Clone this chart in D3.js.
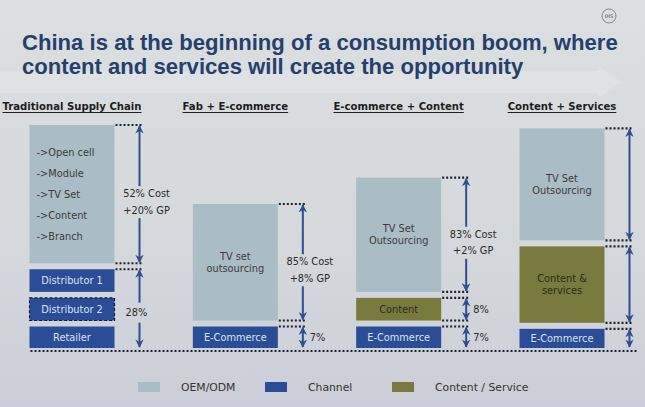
<!DOCTYPE html>
<html><head><meta charset="utf-8">
<script src="https://cdn.jsdelivr.net/npm/d3@7"></script>
<style>html,body{margin:0;padding:0;background:#d6d9dc;} svg{display:block;}</style>
</head><body><svg id="c" width="645" height="407"></svg>
<script>
// ---------- data ----------
const titleLines = ["China is at the beginning of a consumption boom, where",
                    "content and services will create the opportunity"];
const columns = ["Traditional Supply Chain","Fab + E-commerce","E-commerce + Content","Content + Services"];
// segments, stacked bottom-up within each column
const segColumn = [0,0,0,0, 1,1, 2,2,2, 3,3,3];
const segKind = ["Channel","Channel","Channel","OEM/ODM",
                 "Channel","OEM/ODM",
                 "Channel","Content / Service","OEM/ODM",
                 "Channel","Content / Service","OEM/ODM"];
const segLabel = [["Retailer"],["Distributor 2"],["Distributor 1"],["->Open cell","->Module","->TV Set","->Content","->Branch"],
                  ["E-Commerce"],["TV set","outsourcing"],
                  ["E-Commerce"],["Content"],["TV Set","Outsourcing"],
                  ["E-Commerce"],["Content &","services"],["TV Set","Outsourcing"]];
const segSize = [12,12.5,12.5,63, 12,53.5, 12,12.5,52.5, 11,36,51.5];
const dashedSegments = ["Distributor 2"];
// bracket arrows: column, bottom segment index, top segment index (within column), label
const spanColumn = [0,0, 1,1, 2,2,2, 3,3,3];
const spanFrom   = [3,0, 1,0, 2,1,0, 2,1,0];
const spanTo     = [3,2, 1,0, 2,1,0, 2,1,0];
const spanLabel  = [["52% Cost","+20% GP"],["28%"],["85% Cost","+8% GP"],["7%"],
                    ["83% Cost","+2% GP"],["8%"],["7%"],[],[],[]];
const legendKeys = ["OEM/ODM","Channel","Content / Service"];
const legendColors = ["#a9bdc7","#2b4c96","#7a7a3e"];

// ---------- setup ----------
const svg = d3.select("#c");
const W = 645, H = 407;
const FONT = "'DejaVu Sans', Verdana, sans-serif";
const color = d3.scaleOrdinal().domain(legendKeys).range(legendColors);
const textColor = d3.scaleOrdinal().domain(legendKeys).range(["#3b3b3b","#dde2ee","#2c2c1c"]);
const x = d3.scaleBand().domain(columns).range([29.5, 604.5]).paddingInner(0.4796).paddingOuter(0);
const y = d3.scaleLinear().domain([0, 100]).range([351, 122]);
const PAD = 3;

const defs = svg.append("defs");
const grad = defs.append("linearGradient").attr("id","bg").attr("x1",0).attr("y1",0).attr("x2",0).attr("y2",1);
grad.append("stop").attr("offset","0%").attr("stop-color","#dcdfe0");
grad.append("stop").attr("offset","55%").attr("stop-color","#d6d9dc");
grad.append("stop").attr("offset","100%").attr("stop-color","#cbced8");
defs.append("marker").attr("id","ah").attr("viewBox","0 0 10 10")
  .attr("refX",9).attr("refY",5).attr("markerWidth",4.2).attr("markerHeight",4.2)
  .attr("orient","auto-start-reverse")
  .append("path").attr("d","M0,0 L10,5 L0,10 L3,5 z").attr("fill","#2e4f92");

svg.append("rect").attr("width",W).attr("height",H).attr("fill","url(#bg)");

// faint background arrow behind title
svg.append("path")
  .attr("d","M0,71 L598,71 L598,66 L622,82 L598,98 L598,93 L0,93 Z")
  .attr("fill","#ffffff").attr("opacity",0.14);

// IHS logo
svg.append("circle").attr("cx",609).attr("cy",16).attr("r",7)
  .attr("fill","none").attr("stroke","#6c6e72").attr("stroke-width",0.8);
svg.append("text").attr("x",609).attr("y",18).attr("text-anchor","middle")
  .attr("font-family",FONT).attr("font-size",5).attr("fill","#555").text("IHS");

// title
const tt = svg.append("g");
titleLines.forEach((t,i)=>{
  tt.append("text").attr("x",22).attr("y",50 + i*24)
    .attr("font-family","'Liberation Sans', Arial, sans-serif").attr("font-weight","bold")
    .attr("font-size",21).attr("fill","#24406d").text(t);
});
const l1 = tt.select("text").node().getComputedTextLength();
tt.selectAll("text").attr("font-size", 21*596/l1);

// column headers
columns.forEach(c=>{
  const cx = x(c) + x.bandwidth()/2;
  const t = svg.append("text").attr("x",cx).attr("y",110).attr("text-anchor","middle")
    .attr("font-family",FONT).attr("font-weight","bold").attr("font-size",10.1)
    .attr("fill","#1e1e1e").text(c);
  const w = t.node().getComputedTextLength();
  svg.append("line").attr("x1",cx-w/2).attr("x2",cx+w/2).attr("y1",112.5).attr("y2",112.5)
    .attr("stroke","#1e1e1e").attr("stroke-width",1);
});

// build stacked segments
const segs = segSize.map((s,i)=>({i, col:segColumn[i], kind:segKind[i], label:segLabel[i], size:s}));
const cum = {};
segs.forEach(d=>{
  const c0 = cum[d.col] || 0;
  d.y0 = c0; d.y1 = c0 + d.size; cum[d.col] = d.y1;
  d.colName = columns[d.col];
  d.bx = x(d.colName); d.bw = x.bandwidth();
  d.top = y(d.y1) + PAD; d.bottom = y(d.y0) - PAD;
});
const colSegs = columns.map((c,ci)=>segs.filter(d=>d.col===ci));

// baseline dotted line
svg.append("line").attr("x1",x(columns[0])+1).attr("x2",637).attr("y1",y(0)).attr("y2",y(0))
  .attr("stroke","#1c1f2c").attr("stroke-width",2.2).attr("stroke-dasharray","2,2");

// boxes
const g = svg.append("g");
g.selectAll("rect.seg").data(segs).join("rect").attr("class","seg")
  .attr("x",d=>d.bx).attr("y",d=>d.top).attr("width",d=>d.bw).attr("height",d=>d.bottom-d.top)
  .attr("fill",d=>color(d.kind))
  .attr("stroke",d=>dashedSegments.includes(d.label[0]) ? "#101a3a" : "none")
  .attr("stroke-width",1.2)
  .attr("stroke-dasharray",d=>dashedSegments.includes(d.label[0]) ? "3,2" : null);

segs.forEach(d=>{
  const n = d.label.length;
  const left = n > 3;
  const lh = left ? 21 : 12;
  const mid = (d.top + d.bottom)/2;
  d.label.forEach((t,k)=>{
    g.append("text")
      .attr("x", left ? d.bx + 7 : d.bx + d.bw/2)
      .attr("y", mid + (k - (n-1)/2)*lh)
      .attr("dy","0.35em")
      .attr("text-anchor", left ? "start" : "middle")
      .attr("font-family",FONT).attr("font-size",9.8)
      .attr("fill", textColor(d.kind)).text(t);
  });
});

// bracket arrows
const ARW = "#2e4f92";
spanColumn.forEach((ci,k)=>{
  const cs = colSegs[ci];
  const top = cs[spanTo[k]].top, bottom = cs[spanFrom[k]].bottom;
  const boxRight = x(columns[ci]) + x.bandwidth();
  const ax = boxRight + 25;
  // dotted guides
  const dots = [top];
  if (spanFrom[k] !== 0) dots.push(bottom);
  dots.forEach(yy=>{
    svg.append("line").attr("x1",boxRight+1).attr("x2",ax+2).attr("y1",yy).attr("y2",yy)
      .attr("stroke","#1c1f2c").attr("stroke-width",2.2).attr("stroke-dasharray","2,2");
  });
  const lab = spanLabel[k];
  const n = lab.length;
  const hgt = bottom - top;
  const arrow = (ya,yb)=>svg.append("line").attr("x1",ax).attr("x2",ax).attr("y1",ya).attr("y2",yb)
      .attr("stroke",ARW).attr("stroke-width",2).attr("marker-end","url(#ah)");
  if (n > 0 && hgt > 45) {
    const mid = (top + bottom)/2;
    const c = mid + (n > 1 ? 8 : 4);
    const half = 6*n + 4;
    arrow(c-half, top+1);
    arrow(c+half, bottom-1);
    lab.forEach((t,j)=>{
      svg.append("text").attr("x", ax + (n>1 ? 7 : -3)).attr("y", c + (j-(n-1)/2)*16.5)
        .attr("dy","0.35em").attr("text-anchor","middle")
        .attr("font-family",FONT).attr("font-size",9.8).attr("fill","#2a2a2a").text(t);
    });
  } else {
    svg.append("line").attr("x1",ax).attr("x2",ax).attr("y1",bottom-1).attr("y2",top+1)
      .attr("stroke",ARW).attr("stroke-width",2)
      .attr("marker-start","url(#ah)").attr("marker-end","url(#ah)");
    lab.forEach((t,j)=>{
      svg.append("text").attr("x", ax + 7).attr("y", (top+bottom)/2 + (j-(n-1)/2)*16.5)
        .attr("dy","0.35em").attr("text-anchor","start")
        .attr("font-family",FONT).attr("font-size",9.8).attr("fill","#2a2a2a").text(t);
    });
  }
});

// legend
const lx = d3.scaleBand().domain(legendKeys).range([138, 519]);
const lg = svg.append("g").selectAll("g").data(legendKeys).join("g")
  .attr("transform",d=>`translate(${lx(d)},382)`);
lg.append("rect").attr("width",22).attr("height",10).attr("fill",d=>color(d));
lg.append("text").attr("x",43).attr("y",5).attr("dy","0.35em")
  .attr("font-family",FONT).attr("font-size",10.8).attr("fill","#333").text(d=>d);
</script>
</body></html>
